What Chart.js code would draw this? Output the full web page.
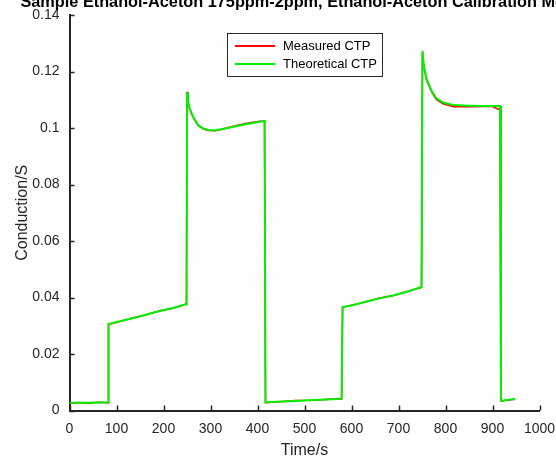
<!DOCTYPE html>
<html>
<head>
<meta charset="utf-8">
<script src="https://cdn.jsdelivr.net/npm/chart.js@4.4.0/dist/chart.umd.min.js"></script>
<style>
  html, body { margin: 0; padding: 0; background: #fff; }
  #wrap { width: 556px; height: 458px; }
</style>
</head>
<body>
<div id="wrap"><canvas id="myChart" width="556" height="458"></canvas></div>
<script>
// values
var timeSec = [0, 20, 40, 60, 82, 83, 100, 130, 160, 190, 220, 248, 249, 250, 252, 256, 263, 274, 285, 295, 310, 320, 340, 356, 375, 391, 405, 415, 417, 440, 480, 520, 560, 579, 581, 600, 630, 660, 690, 720, 749, 751, 754, 760, 771, 781, 795, 817, 850, 880, 900, 912, 916, 918, 930, 948];
var measuredCtp = [0.0026, 0.0028, 0.0026, 0.0029, 0.0027, 0.0305, 0.0311, 0.0326, 0.0337, 0.0352, 0.0362, 0.0377, 0.0376, 0.1128, 0.1093, 0.1066, 0.1038, 0.1008, 0.0996, 0.0991, 0.0990, 0.0994, 0.1003, 0.1009, 0.1016, 0.1020, 0.1024, 0.1024, 0.0028, 0.0030, 0.0035, 0.0036, 0.0041, 0.0041, 0.0365, 0.0373, 0.0384, 0.0398, 0.0407, 0.0422, 0.0436, 0.1270, 0.1215, 0.1168, 0.1126, 0.1100, 0.1086, 0.1075, 0.1075, 0.1076, 0.1076, 0.1067, 0.1070, 0.0033, 0.0036, 0.0040];
var theoreticalCtp = [0.0027, 0.0027, 0.0027, 0.0028, 0.0028, 0.0306, 0.0313, 0.0325, 0.0338, 0.0351, 0.0363, 0.0376, 0.0377, 0.1126, 0.1095, 0.1068, 0.1040, 0.1010, 0.0998, 0.0993, 0.0992, 0.0995, 0.1001, 0.1007, 0.1013, 0.1018, 0.1022, 0.1025, 0.0029, 0.0031, 0.0034, 0.0037, 0.0040, 0.0042, 0.0366, 0.0372, 0.0385, 0.0397, 0.0408, 0.0421, 0.0437, 0.1272, 0.1218, 0.1172, 0.1130, 0.1104, 0.1090, 0.1081, 0.1079, 0.1078, 0.1078, 0.1078, 0.1078, 0.0034, 0.0037, 0.0041];
var seriesNames = ['Measured CTP', 'Theoretical CTP'];
var xTicks = [0, 100, 200, 300, 400, 500, 600, 700, 800, 900, 1000];
var yTicks = [0, 0.02, 0.04, 0.06, 0.08, 0.1, 0.12, 0.14];
var titleText = 'Sample Ethanol-Aceton 175ppm-2ppm, Ethanol-Aceton Calibration Model';

var axisColor = '#262626';
var fontFam = '"Liberation Sans", Arial, Helvetica, sans-serif';

function pts(xs, ys) {
  var out = [];
  for (var i = 0; i < xs.length; i++) out.push({x: xs[i], y: ys[i]});
  return out;
}

// inward ticks, title and boxed legend (matlab look)
var extras = {
  id: 'extras',
  afterDatasetsDraw: function(chart) {
    var ctx = chart.ctx;
    var xs = chart.scales.x, ys = chart.scales.y;
    var area = chart.chartArea;
    ctx.save();
    ctx.strokeStyle = axisColor;
    ctx.lineWidth = 1.5;
    ctx.beginPath();
    xTicks.forEach(function(v) {
      var px = Math.round(xs.getPixelForValue(v)) + 0.5;
      ctx.moveTo(px, area.bottom);
      ctx.lineTo(px, area.bottom - 5);
    });
    yTicks.forEach(function(v) {
      var py = Math.round(ys.getPixelForValue(v)) + 0.5;
      ctx.moveTo(area.left, py);
      ctx.lineTo(area.left + 5, py);
    });
    ctx.stroke();

    // title, clipped at top like the original
    ctx.fillStyle = '#000';
    ctx.font = 'bold 16.3px ' + fontFam;
    ctx.textAlign = 'center';
    ctx.textBaseline = 'alphabetic';
    ctx.fillText(titleText, (area.left + area.right) / 2, 7);

    // legend box
    var bx = 227.5, by = 33.5, bw = 155, bh = 43;
    ctx.fillStyle = '#fff';
    ctx.fillRect(bx, by, bw, bh);
    ctx.strokeStyle = axisColor;
    ctx.lineWidth = 1;
    ctx.strokeRect(bx, by, bw, bh);
    ctx.font = '13px ' + fontFam;
    ctx.textAlign = 'left';
    ctx.textBaseline = 'middle';
    chart.data.datasets.forEach(function(ds, i) {
      var ly = 46 + i * 18;
      ctx.strokeStyle = ds.borderColor;
      ctx.lineWidth = 2;
      ctx.beginPath();
      ctx.moveTo(235, ly);
      ctx.lineTo(275, ly);
      ctx.stroke();
      ctx.fillStyle = '#000';
      ctx.fillText(ds.label, 283, ly);
    });
    ctx.restore();
  }
};

var ctx = document.getElementById('myChart').getContext('2d');
var chart = new Chart(ctx, {
  type: 'line',
  data: {
    datasets: [{
      label: seriesNames[0],
      data: pts(timeSec, measuredCtp),
      borderColor: 'rgb(255, 0, 0)',
      borderWidth: 1.5,
      pointRadius: 0,
      tension: 0,
      order: 2
    }, {
      label: seriesNames[1],
      data: pts(timeSec, theoreticalCtp),
      borderColor: 'rgb(0, 240, 0)',
      borderWidth: 2,
      pointRadius: 0,
      tension: 0,
      order: 1
    }]
  },
  options: {
    responsive: false,
    animation: false,
    layout: { padding: 0 },
    plugins: {
      legend: { display: false },
      tooltip: { enabled: false },
      title: { display: false }
    },
    scales: {
      x: {
        type: 'linear',
        min: 0, max: 1000,
        afterFit: function(s) { s.height = 47.5; s.paddingLeft = 0; s.paddingRight = 16.5; },
        afterBuildTicks: function(s) { s.ticks = xTicks.map(function(v) { return {value: v}; }); },
        grid: { display: false, drawTicks: false },
        border: { display: true, color: axisColor, width: 2 },
        ticks: {
          color: axisColor, padding: 10, maxRotation: 0,
          font: { family: fontFam, size: 14 },
          callback: function(v) { return String(v); }
        },
        title: {
          display: true, text: 'Time/s', color: axisColor,
          font: { family: fontFam, size: 16 },
          padding: { top: 0, bottom: -2 }
        }
      },
      y: {
        min: 0, max: 0.14,
        afterFit: function(s) { s.width = 69.5; s.paddingTop = 15; s.paddingBottom = 0; },
        afterBuildTicks: function(s) { s.ticks = yTicks.map(function(v) { return {value: v}; }); },
        grid: { display: false, drawTicks: false },
        border: { display: true, color: axisColor, width: 2 },
        ticks: {
          color: axisColor, padding: 10,
          font: { family: fontFam, size: 14 },
          callback: function(v) { return String(+v.toFixed(2)); }
        },
        title: {
          display: true, text: 'Conduction/S', color: axisColor,
          font: { family: fontFam, size: 16 },
          padding: { top: 13, bottom: 0 }
        }
      }
    }
  },
  plugins: [extras]
});
</script>
</body>
</html>
